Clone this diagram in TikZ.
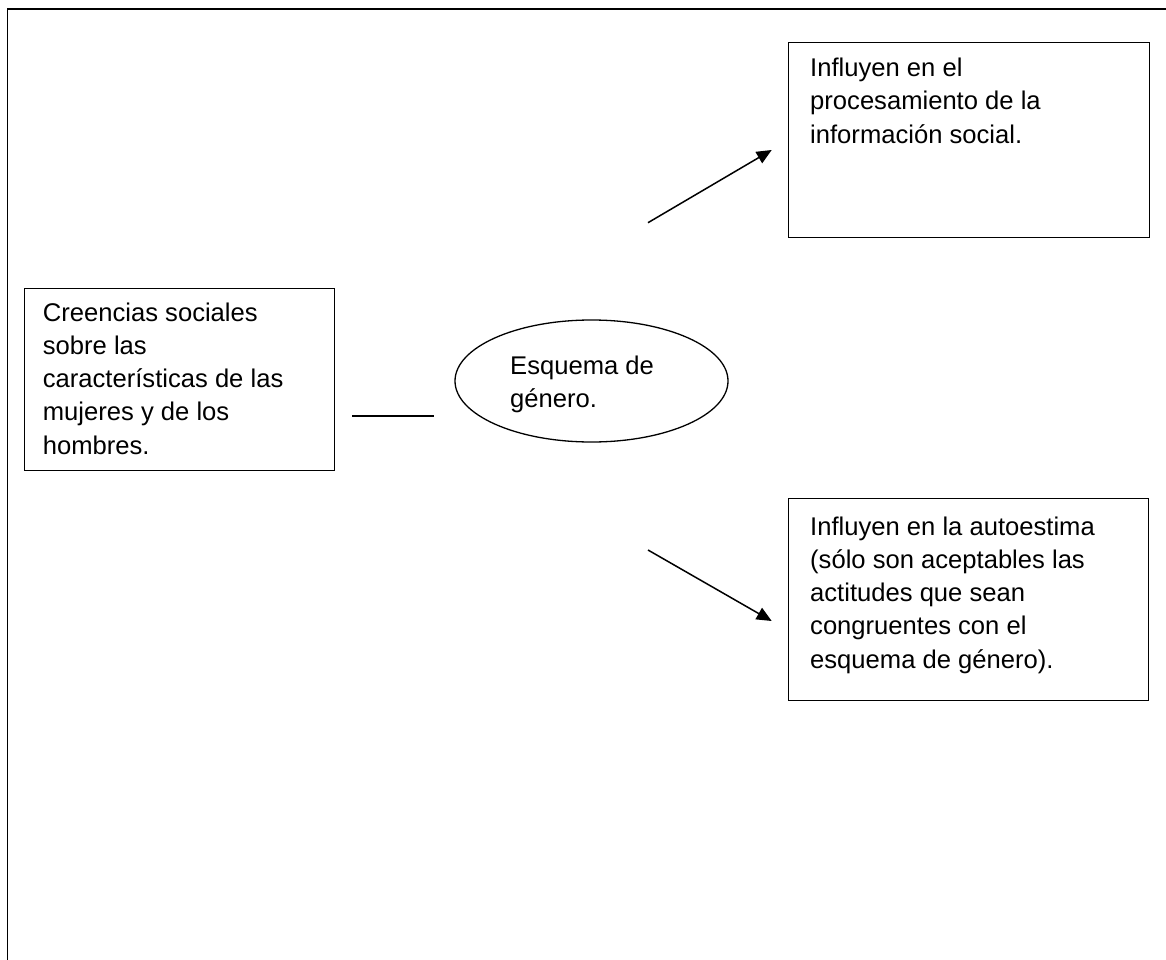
\documentclass[tikz,border=0pt]{standalone}
\usepackage{fontspec}
\setmainfont{Liberation Sans}
\usetikzlibrary{shapes.geometric,arrows.meta}
\tikzset{
  boxnode/.style={draw=black, line width=1.3pt, rectangle, inner sep=0pt, anchor=north west},
  ellnode/.style={draw=black, line width=1.3pt, ellipse, inner sep=0pt},
  txt/.style={inner sep=0pt, anchor=base west, font=\fontsize{25.6}{33.3}\selectfont},
  arr/.style={line width=1.5pt, -{Triangle[length=15pt,width=13pt]}},
  plain/.style={line width=1.5pt},
  frameline/.style={line width=1.8pt}
}
\begin{document}
\begin{tikzpicture}[x=1pt,y=-1pt]
\useasboundingbox (0,0) rectangle (1166,960);
% outer frame (top and left edges only visible)
\coordinate (fr1) at (1166,9.3);
\coordinate (fr2) at (7.5,9.3);
\coordinate (fr3) at (7.5,960);
\draw[frameline] (fr1) -- (fr2) -- (fr3);

% boxes
\node[boxnode, minimum width=361pt, minimum height=195pt] (b1) at (788,42) {};
\node[boxnode, minimum width=310pt, minimum height=182pt] (b2) at (24,287.7) {};
\node[boxnode, minimum width=360pt, minimum height=202pt] (b3) at (788,498) {};
\node[ellnode, minimum width=273pt, minimum height=122pt] (esq) at (591.5,381) {};

% texts
\node[txt] (t1) at (810,76.7) {\parbox[t]{340pt}{\raggedright Influyen en el\\procesamiento de la\\información social.}};
\node[txt] (t2) at (42.7,321) {\parbox[t]{290pt}{\raggedright Creencias sociales\\sobre las\\características de las\\mujeres y de los\\hombres.}};
\node[txt] (t3) at (810,535) {\parbox[t]{340pt}{\raggedright Influyen en la autoestima\\(sólo son aceptables las\\actitudes que sean\\congruentes con el\\esquema de género).}};
\node[txt] (te) at (510,374) {\parbox[t]{200pt}{\raggedright Esquema de\\género.}};

% connectors
\coordinate (l1) at (352,416);
\coordinate (l2) at (434,416);
\draw[plain] (l1) -- (l2);
\coordinate (a1s) at (648,222.7);
\coordinate (a1e) at (771.7,150);
\draw[arr] (a1s) -- (a1e);
\coordinate (a2s) at (648,550);
\coordinate (a2e) at (771.7,621);
\draw[arr] (a2s) -- (a2e);
\end{tikzpicture}
\end{document}
